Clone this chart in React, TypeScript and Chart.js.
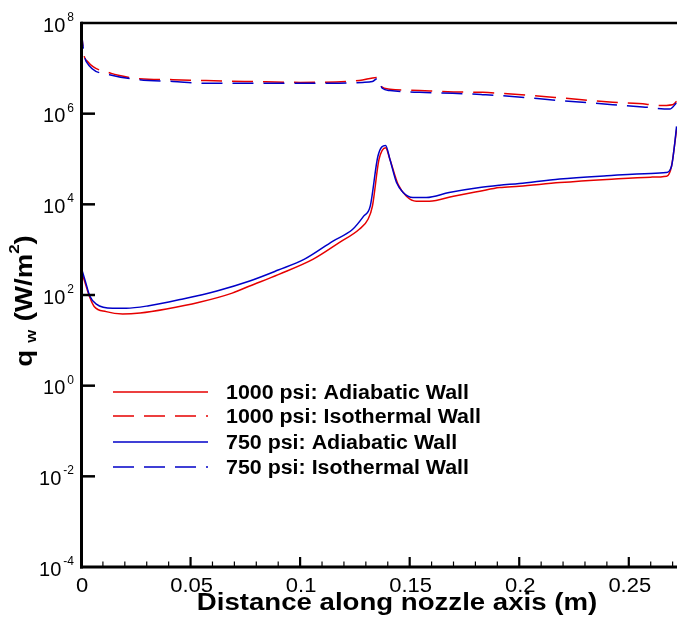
import React, { useEffect, useRef } from "react";
import { Chart, registerables } from "chart.js";

Chart.register(...registerables);

// ---- Data (x in m, q_w in W/m^2) ----
const RED_ADIA_X = [0, 0.002, 0.004, 0.006, 0.0115, 0.019, 0.027, 0.039, 0.054, 0.069, 0.077, 0.09, 0.106, 0.118, 0.127, 0.131, 0.133, 0.136, 0.139, 0.141, 0.1447, 0.1485, 0.153, 0.159, 0.17, 0.182, 0.191, 0.2, 0.2185, 0.24, 0.26, 0.2673, 0.2695, 0.2718];
const RED_ADIA_Y = [355, 178, 89, 56, 43, 38, 40, 49, 69, 110, 158, 282, 617, 1445, 2818, 4677, 9120, 97700, 177800, 97700, 27540, 15140, 11750, 11750, 15140, 19500, 23440, 25120, 30200, 35480, 39810, 41690, 69180, 446700];

const RED_ISO_X = [0, 0.0012, 0.003, 0.0138, 0.0176, 0.0267, 0.042, 0.057, 0.077, 0.1, 0.127, 0.135, 0.137, 0.141, 0.1545, 0.17, 0.1833, 0.191, 0.2185, 0.2427, 0.258, 0.2626, 0.27, 0.2718];
const RED_ISO_Y = [8.9e7, 2.14e7, 1.41e7, 7.76e6, 6.92e6, 5.89e6, 5.62e6, 5.37e6, 5.13e6, 4.9e6, 5.37e6, 6.31e6, 3.98e6, 3.47e6, 3.24e6, 3.02e6, 2.95e6, 2.82e6, 2.24e6, 1.78e6, 1.62e6, 1.51e6, 1.58e6, 1.86e6];

const BLUE_ADIA_X = [0, 0.002, 0.004, 0.007, 0.0144, 0.0206, 0.031, 0.046, 0.062, 0.077, 0.09, 0.102, 0.115, 0.124, 0.129, 0.132, 0.1355, 0.139, 0.141, 0.144, 0.147, 0.1515, 0.1576, 0.168, 0.182, 0.191, 0.2, 0.2185, 0.24, 0.26, 0.267, 0.2695, 0.271, 0.2718];
const BLUE_ADIA_Y = [417, 200, 95, 63, 51, 51, 58, 81, 123, 204, 355, 617, 1549, 2818, 5495, 9120, 114800, 199500, 97700, 30200, 18200, 14130, 14130, 18200, 23440, 26300, 28840, 36310, 42660, 47860, 50120, 69180, 229100, 524800];

const BLUE_ISO_X = [0, 0.0012, 0.0024, 0.013, 0.0267, 0.042, 0.057, 0.077, 0.1, 0.115, 0.1285, 0.133, 0.1355, 0.1375, 0.141, 0.1545, 0.1696, 0.1833, 0.191, 0.2185, 0.2427, 0.2564, 0.2687, 0.2718];
const BLUE_ISO_Y = [7.94e7, 2.4e7, 1.41e7, 7.24e6, 5.62e6, 5.13e6, 4.68e6, 4.68e6, 4.68e6, 4.68e6, 4.9e6, 5.13e6, 6.03e6, 3.63e6, 3.24e6, 2.95e6, 2.82e6, 2.63e6, 2.51e6, 1.95e6, 1.58e6, 1.41e6, 1.26e6, 1.74e6];

const SERIES_LABELS = [
  "1000 psi: Adiabatic Wall",
  "1000 psi: Isothermal Wall",
  "750 psi: Adiabatic Wall",
  "750 psi: Isothermal Wall",
];

const X_MAJOR_TICKS = [0, 0.05, 0.1, 0.15, 0.2, 0.25];
const X_TICK_LABELS = ["0", "0.05", "0.1", "0.15", "0.2", "0.25"];
const X_MINOR_STEP = 0.01;
const Y_TICK_EXPONENTS = [-4, -2, 0, 2, 4, 6, 8];
const Y_TICK_SUPERS = ["-4", "-2", "0", "2", "4", "6", "8"];

const X_TITLE = "Distance along nozzle axis (m)";
const Y_TITLE_MAIN = "q";
const Y_TITLE_SUB = "w";
const Y_TITLE_UNIT = "(W/m";
const Y_TITLE_SUP = "2";
const Y_TITLE_END = ")";

const RED = "#e60000";
const BLUE = "#0000c8";
const DASH = [21, 10];
const FONT = "'Liberation Sans', Arial, Helvetica, sans-serif";

function pts(xs: number[], ys: number[]) {
  return xs.map((x, i) => ({ x, y: ys[i] }));
}

function stretchText(ctx: CanvasRenderingContext2D, text: string, x: number, y: number, sx: number, align: CanvasTextAlign) {
  ctx.save();
  ctx.translate(x, y);
  ctx.scale(sx, 1);
  ctx.textAlign = align;
  ctx.textBaseline = "alphabetic";
  ctx.fillText(text, 0, 0);
  ctx.restore();
}

const decorPlugin = {
  id: "decor",
  afterDraw(chart: any) {
    const ctx: CanvasRenderingContext2D = chart.ctx;
    const { left, right, top, bottom } = chart.chartArea;
    const xs = chart.scales.x;
    const ys = chart.scales.y;
    ctx.save();
    ctx.strokeStyle = "#000";
    ctx.fillStyle = "#000";
    ctx.lineCap = "butt";

    // frame
    ctx.lineWidth = 2.5;
    ctx.beginPath();
    ctx.moveTo(left, top);
    ctx.lineTo(right, top);
    ctx.stroke();
    ctx.lineWidth = 3;
    ctx.beginPath();
    ctx.moveTo(left + 0.5, top - 1.25);
    ctx.lineTo(left + 0.5, bottom + 1.5);
    ctx.stroke();
    ctx.beginPath();
    ctx.moveTo(left - 1, bottom);
    ctx.lineTo(right, bottom);
    ctx.stroke();

    // y ticks (inward)
    ctx.lineWidth = 2.5;
    Y_TICK_EXPONENTS.forEach((e) => {
      const py = ys.getPixelForValue(Math.pow(10, e));
      if (py > top + 2 && py < bottom - 2) {
        ctx.beginPath();
        ctx.moveTo(left, py);
        ctx.lineTo(left + 14, py);
        ctx.stroke();
      }
    });

    // x ticks (inward), minor every 0.01
    const nMinor = Math.floor(xs.max / X_MINOR_STEP + 1e-9);
    for (let i = 1; i <= nMinor; i++) {
      const v = i * X_MINOR_STEP;
      const px = xs.getPixelForValue(v);
      const major = i % 5 === 0;
      ctx.lineWidth = major ? 2.2 : 1.2;
      ctx.beginPath();
      ctx.moveTo(px, bottom);
      ctx.lineTo(px, bottom - (major ? 10 : 5.5));
      ctx.stroke();
    }

    // x tick labels
    ctx.font = `20px ${FONT}`;
    X_MAJOR_TICKS.forEach((v, i) => {
      const px = xs.getPixelForValue(v);
      stretchText(ctx, X_TICK_LABELS[i], px + 1, 591.5, 1.1, "center");
    });

    // y tick labels 10^n
    Y_TICK_EXPONENTS.forEach((e, i) => {
      const py = ys.getPixelForValue(Math.pow(10, e));
      ctx.font = `20px ${FONT}`;
      const w10 = ctx.measureText("10").width;
      ctx.font = `12px ${FONT}`;
      const sup = Y_TICK_SUPERS[i];
      const ws = ctx.measureText(sup).width;
      const start = 74 - (w10 + 2 + ws);
      ctx.font = `20px ${FONT}`;
      ctx.textAlign = "left";
      ctx.textBaseline = "alphabetic";
      ctx.fillText("10", start, py + 8.5);
      ctx.font = `12px ${FONT}`;
      ctx.fillText(sup, start + w10 + 2, py - 2);
    });

    // x title
    ctx.font = `bold 23px ${FONT}`;
    stretchText(ctx, X_TITLE, 397, 609.5, 1.2, "center");

    // y title rotated
    const sx = 1.2;
    const parts = [
      { t: Y_TITLE_MAIN, f: `bold 23px ${FONT}`, dy: 0, gapAfter: 6 },
      { t: Y_TITLE_SUB, f: `bold 14px ${FONT}`, dy: 4, gapAfter: 7 },
      { t: Y_TITLE_UNIT, f: `bold 23px ${FONT}`, dy: 0, gapAfter: 0 },
      { t: Y_TITLE_SUP, f: `bold 14px ${FONT}`, dy: -13, gapAfter: 0 },
      { t: Y_TITLE_END, f: `bold 23px ${FONT}`, dy: 0, gapAfter: 0 },
    ];
    let total = 0;
    parts.forEach((p) => {
      ctx.font = p.f;
      total += ctx.measureText(p.t).width + p.gapAfter;
    });
    ctx.save();
    ctx.translate(32, 301 + (total * sx) / 2);
    ctx.rotate(-Math.PI / 2);
    ctx.scale(sx, 1);
    ctx.textAlign = "left";
    ctx.textBaseline = "alphabetic";
    let cx = 0;
    parts.forEach((p) => {
      ctx.font = p.f;
      ctx.fillText(p.t, cx, p.dy);
      cx += ctx.measureText(p.t).width + p.gapAfter;
    });
    ctx.restore();

    // legend
    const rows = [392, 416, 442, 467];
    const colors = [RED, RED, BLUE, BLUE];
    const dashed = [false, true, false, true];
    rows.forEach((ry, i) => {
      ctx.strokeStyle = colors[i];
      ctx.lineWidth = 1.5;
      ctx.setLineDash(dashed[i] ? DASH : []);
      ctx.beginPath();
      ctx.moveTo(113, ry);
      ctx.lineTo(208, ry);
      ctx.stroke();
      ctx.setLineDash([]);
      ctx.fillStyle = "#000";
      ctx.font = `bold 20px ${FONT}`;
      stretchText(ctx, SERIES_LABELS[i], 226, ry + 6.6, 1.07, "left");
    });

    ctx.restore();
  },
};

export default function App() {
  const ref = useRef<HTMLCanvasElement>(null);
  useEffect(() => {
    const canvas = ref.current;
    if (!canvas) return;
    const common = {
      pointRadius: 0,
      borderWidth: 1.5,
      fill: false,
      tension: 0,
      cubicInterpolationMode: "monotone" as const,
    };
    const chart = new Chart(canvas, {
      type: "line",
      data: {
        datasets: [
          { ...common, label: SERIES_LABELS[0], data: pts(RED_ADIA_X, RED_ADIA_Y), borderColor: RED, order: 2 },
          { ...common, label: SERIES_LABELS[1], data: pts(RED_ISO_X, RED_ISO_Y), borderColor: RED, borderDash: DASH, order: 2 },
          { ...common, label: SERIES_LABELS[2], data: pts(BLUE_ADIA_X, BLUE_ADIA_Y), borderColor: BLUE, order: 1 },
          { ...common, label: SERIES_LABELS[3], data: pts(BLUE_ISO_X, BLUE_ISO_Y), borderColor: BLUE, borderDash: DASH, order: 1 },
        ] as any,
      },
      options: {
        responsive: false,
        devicePixelRatio: 1,
        animation: false,
        layout: { padding: { left: 81, top: 23, right: 0, bottom: 53 } },
        plugins: { legend: { display: false }, tooltip: { enabled: false } },
        scales: {
          x: { type: "linear", min: 0, max: 0.272, display: false },
          y: { type: "logarithmic", min: 1e-4, max: 1e8, display: false },
        },
      },
      plugins: [decorPlugin],
    });
    return () => chart.destroy();
  }, []);
  return (
    <div style={{ position: "fixed", left: 0, top: 0, width: 677, height: 620, background: "#fff" }}>
      <canvas ref={ref} width={677} height={620} style={{ display: "block", width: 677, height: 620 }} />
    </div>
  );
}
